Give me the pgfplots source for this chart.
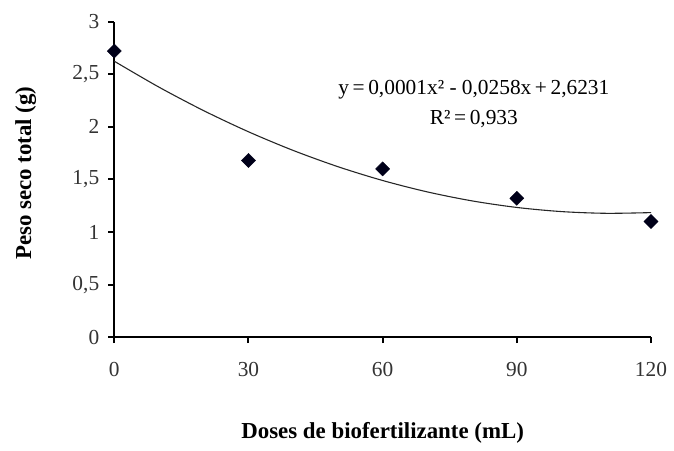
\documentclass[border=0pt]{standalone}
\usepackage{fontspec}
\setmainfont{Liberation Serif}
\usepackage{pgfplots}
\pgfplotsset{compat=1.18}

\begin{document}
\begin{tikzpicture}
\fontsize{21}{25}\selectfont
\begin{axis}[
    at={(0,0)}, anchor=south west,
    scale only axis,
    width=540pt, height=317.6pt,
    xmin=0, xmax=120,
    ymin=0, ymax=3,
    axis lines=left,
    axis line style={-, line width=2.2pt, black},
    xtick={0,30,60,90,120},
    ytick={0,0.5,1,1.5,2,2.5,3},
    tick align=outside,
    major tick length=6pt,
    tick style={line width=2pt, black},
    /pgf/number format/use comma,
    /pgf/number format/assume math mode=true,
    tick label style={font=\fontsize{21.5}{25}\selectfont, text=black!80},
    xticklabel style={yshift=-12pt},
    yticklabel style={xshift=-2pt},
    xlabel={\textbf{Doses de biofertilizante (mL)}},
    ylabel={\textbf{Peso seco total (g)}},
    label style={font=\fontsize{23}{27}\selectfont},
    xlabel style={at={(axis description cs:0.5,-0.302)}, anchor=center},
    ylabel style={at={(axis description cs:-0.165,0.52)}, anchor=center},
    clip=false,
]
% trendline
\addplot[black!85, line width=1.1pt, smooth] coordinates {
    (0,2.6231) (10,2.3766) (20,2.1531) (30,1.9527) (40,1.7753)
    (50,1.6209) (60,1.4895) (70,1.3811) (80,1.2957) (90,1.2334)
    (100,1.1941) (110,1.1778) (120,1.1845)
};
% observed
\addplot[only marks, mark=square*, mark size=5pt,
    mark options={rotate=45, fill=black!90!blue, draw=black!90!blue}]
    coordinates {
    (0,2.72) (30,1.68) (60,1.60) (90,1.32) (120,1.10)
};
\node[anchor=center, font=\fontsize{21.5}{25}\selectfont] at (axis cs:80.4,2.35) {y\,=\,0,0001x² - 0,0258x\,+\,2,6231};
\node[anchor=center, font=\fontsize{21.5}{25}\selectfont] at (axis cs:80.4,2.07) {R²\,=\,0,933};
\end{axis}
\path (-115pt,-108.7pt) rectangle (559pt,339.3pt);
\end{tikzpicture}
\end{document}
